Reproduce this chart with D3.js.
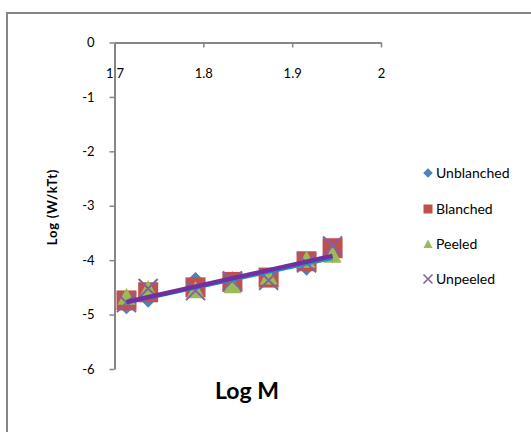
<!DOCTYPE html>
<html>
<head>
<meta charset="utf-8">
<script src="https://cdn.jsdelivr.net/npm/d3@7"></script>
<style>
  body { margin: 0; background: #fff; }
  svg { display: block; font-family: Lato, 'Open Sans', sans-serif; }
</style>
</head>
<body>
<svg width="531" height="432"></svg>
<script>
// data
const logM = [1.7135, 1.7379, 1.7912, 1.8327, 1.8735, 1.9162, 1.9455];
const unblanched = [-4.84, -4.72, -4.37, -4.36, -4.34, -4.13, -3.90];
const blanched = [-4.74, -4.59, -4.50, -4.40, -4.32, -4.02, -3.78];
const peeled = [-4.67, -4.53, -4.55, -4.46, -4.30, -3.99, -3.90];
const unpeeled = [-4.78, -4.52, -4.56, -4.38, -4.37, -4.05, -3.74];
const seriesNames = ['Unblanched', 'Blanched', 'Peeled', 'Unpeeled'];
const xTicks = [1.7, 1.8, 1.9, 2];
const yTicks = [0, -1, -2, -3, -4, -5, -6];

const SVG = d3.select('svg');
const COLORS = ['#4F81BD', '#C0504D', '#9BBB59', '#8064A2'];
const AXIS_COLOR = '#868686';

// outer chart border (runs off the right and bottom edges)
SVG.append('rect')
  .attr('x', 7).attr('y', 13)
  .attr('width', 540).attr('height', 440)
  .style('fill', 'none')
  .style('stroke', AXIS_COLOR)
  .style('stroke-width', 2);

const X_SCALE = d3.scaleLinear().domain([1.7, 2]).range([114.5, 381]);
const Y_SCALE = d3.scaleLinear().domain([0, -6]).range([42.5, 369]);

// x axis sits at y = 0, labels drawn a bit lower
const X_AXIS_G = SVG.append('g')
  .attr('transform', `translate(0,${Y_SCALE(0)})`)
  .call(d3.axisBottom(X_SCALE).tickValues(xTicks).tickSize(5).tickSizeOuter(0)
    .tickFormat(d => String(d)));
X_AXIS_G.selectAll('text').attr('y', 26).style('font-size', '13px').style('fill', '#000');

const Y_AXIS_G = SVG.append('g')
  .attr('transform', `translate(${X_SCALE(1.7)},0)`)
  .call(d3.axisLeft(Y_SCALE).tickValues(yTicks).tickSize(5).tickSizeOuter(0)
    .tickFormat(d => String(d)));
Y_AXIS_G.selectAll('text').attr('x', -20).style('font-size', '13px').style('fill', '#000');

[X_AXIS_G, Y_AXIS_G].forEach(g => {
  g.select('.domain').style('stroke', AXIS_COLOR).style('stroke-width', 2);
  g.selectAll('.tick line').style('stroke', AXIS_COLOR).style('stroke-width', 1.5);
  g.style('font-family', 'Lato, sans-serif');
});

// axis titles
SVG.append('text')
  .attr('transform', 'translate(57,207) rotate(-90)')
  .attr('text-anchor', 'middle')
  .style('font-size', '13px')
  .style('font-weight', 'bold')
  .style('letter-spacing', '0.8px')
  .text('Log (W/kTt)');

SVG.append('text')
  .attr('x', 247).attr('y', 399)
  .attr('text-anchor', 'middle')
  .style('font-size', '23px')
  .style('font-weight', 'bold')
  .text('Log M');

const allSeries = [unblanched, blanched, peeled, unpeeled];
const CHART = SVG.append('g').attr('id', 'chart');

function drawMarker(g, type, x, y, color, s) {
  if (type === 0) {
    g.append('path')
      .attr('d', `M${x},${y - s * 0.6}L${x + s * 0.6},${y}L${x},${y + s * 0.6}L${x - s * 0.6},${y}Z`)
      .style('fill', color);
  } else if (type === 1) {
    g.append('rect')
      .attr('x', x - s / 2).attr('y', y - s / 2)
      .attr('width', s).attr('height', s)
      .style('fill', color);
  } else if (type === 2) {
    g.append('path')
      .attr('d', `M${x},${y - s * 0.5}L${x + s * 0.5},${y + s * 0.45}L${x - s * 0.5},${y + s * 0.45}Z`)
      .style('fill', color);
  } else {
    g.append('path')
      .attr('d', `M${x - s / 2},${y - s / 2}L${x + s / 2},${y + s / 2}M${x + s / 2},${y - s / 2}L${x - s / 2},${y + s / 2}`)
      .style('stroke', color)
      .style('stroke-width', s > 12 ? 2 : 1.6)
      .style('fill', 'none');
  }
}

const MARKER_SIZES = [14, 20, 18, 19];
allSeries.forEach((vals, si) => {
  const g = CHART.append('g').attr('id', seriesNames[si]);
  vals.forEach((v, i) => drawMarker(g, si, X_SCALE(logM[i]), Y_SCALE(v), COLORS[si], MARKER_SIZES[si]));
});

// linear trendlines (least squares)
function fit(vals) {
  const mx = d3.mean(logM), my = d3.mean(vals);
  let sxy = 0, sxx = 0;
  logM.forEach((x, i) => { sxy += (x - mx) * (vals[i] - my); sxx += (x - mx) * (x - mx); });
  const b = sxy / sxx;
  return x => my + b * (x - mx);
}
const x0 = d3.min(logM), x1 = d3.max(logM);
[[unblanched, '#1F8FD0', 2.5], [unpeeled, '#7030A0', 4.5]].forEach(([vals, c, w]) => {
  const f = fit(vals);
  CHART.append('line')
    .attr('x1', X_SCALE(x0)).attr('y1', Y_SCALE(f(x0)))
    .attr('x2', X_SCALE(x1)).attr('y2', Y_SCALE(f(x1)))
    .style('stroke', c)
    .style('stroke-width', w);
});

// legend
const LEGEND_Y = [173, 209, 244, 279];
const LEGEND = SVG.append('g').attr('id', 'legend');
seriesNames.forEach((name, i) => {
  drawMarker(LEGEND, i, 428, LEGEND_Y[i], COLORS[i], i === 0 ? 8 : 9);
  LEGEND.append('text')
    .attr('x', 436).attr('y', LEGEND_Y[i] + 5)
    .style('font-size', '14px')
    .text(name);
});
</script>
</body>
</html>
